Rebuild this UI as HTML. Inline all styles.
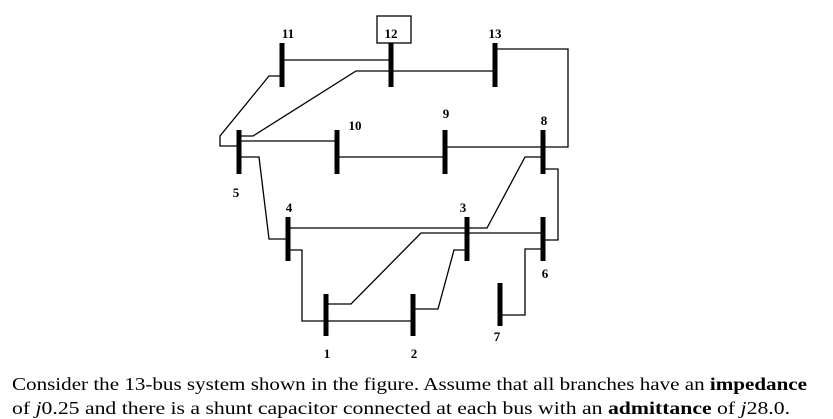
<!DOCTYPE html>
<html><head><style>
html,body{margin:0;padding:0;background:#fff;}
svg{display:block;}
.l{font-family:"Liberation Serif",serif;font-weight:bold;font-size:13px;text-anchor:middle;}
.t{font-family:"Liberation Serif",serif;font-size:18px;}
</style></head><body>
<svg width="833" height="419" viewBox="0 0 833 419" xmlns="http://www.w3.org/2000/svg">
<g fill="none" stroke="#000" stroke-width="1.3">
<rect x="377" y="16" width="34" height="27"/>
<polyline points="282,60 391,60"/>
<polyline points="391,71 495,71"/>
<polyline points="495,49 568,49 568,147 543,147"/>
<polyline points="445,147 543,147"/>
<polyline points="337,157 445,157"/>
<polyline points="239,141 337,141"/>
<polyline points="239,146 220,146 220,136 269,76 282,76"/>
<polyline points="239,136 253,136 356,71 391,71"/>
<polyline points="239,157 259,157 269,239 288,239"/>
<polyline points="288,228 487,228 525,157 543,157"/>
<polyline points="543,169 558,169 558,240 543,240"/>
<polyline points="326,304 351,304 421,233 543,233"/>
<polyline points="288,250 302,250 302,321 413,321"/>
<polyline points="413,309 438,309 454,250 467,250"/>
<polyline points="500,315 525,315 525,249 543,249"/>
</g>
<g stroke="#000" stroke-width="5">
<line x1="282" y1="43" x2="282" y2="87"/>
<line x1="391" y1="43" x2="391" y2="87"/>
<line x1="495" y1="43" x2="495" y2="87"/>
<line x1="239" y1="130" x2="239" y2="174"/>
<line x1="337" y1="130" x2="337" y2="174"/>
<line x1="445" y1="130" x2="445" y2="174"/>
<line x1="543" y1="130" x2="543" y2="174"/>
<line x1="288" y1="217" x2="288" y2="261"/>
<line x1="467" y1="217" x2="467" y2="261"/>
<line x1="543" y1="217" x2="543" y2="261"/>
<line x1="326" y1="294" x2="326" y2="336"/>
<line x1="413" y1="294" x2="413" y2="336"/>
<line x1="500" y1="283" x2="500" y2="326"/>
</g>
<g class="l">
<text x="288" y="38">11</text>
<text x="391" y="38">12</text>
<text x="495" y="38">13</text>
<text x="355" y="130">10</text>
<text x="446" y="118">9</text>
<text x="544" y="125">8</text>
<text x="236" y="197">5</text>
<text x="289" y="212">4</text>
<text x="463" y="212">3</text>
<text x="545" y="278">6</text>
<text x="497" y="341">7</text>
<text x="327" y="358">1</text>
<text x="414" y="358">2</text>
</g>
<text class="t" x="12" y="390" textLength="795" lengthAdjust="spacingAndGlyphs">Consider the 13-bus system shown in the figure.  Assume that all branches have an <tspan font-weight="bold">impedance</tspan></text>
<text class="t" x="12" y="414" textLength="778" lengthAdjust="spacingAndGlyphs">of <tspan font-style="italic">j</tspan>0.25 and there is a shunt capacitor connected at each bus with an <tspan font-weight="bold">admittance</tspan> of <tspan font-style="italic">j</tspan>28.0.</text>
</svg>
</body></html>
